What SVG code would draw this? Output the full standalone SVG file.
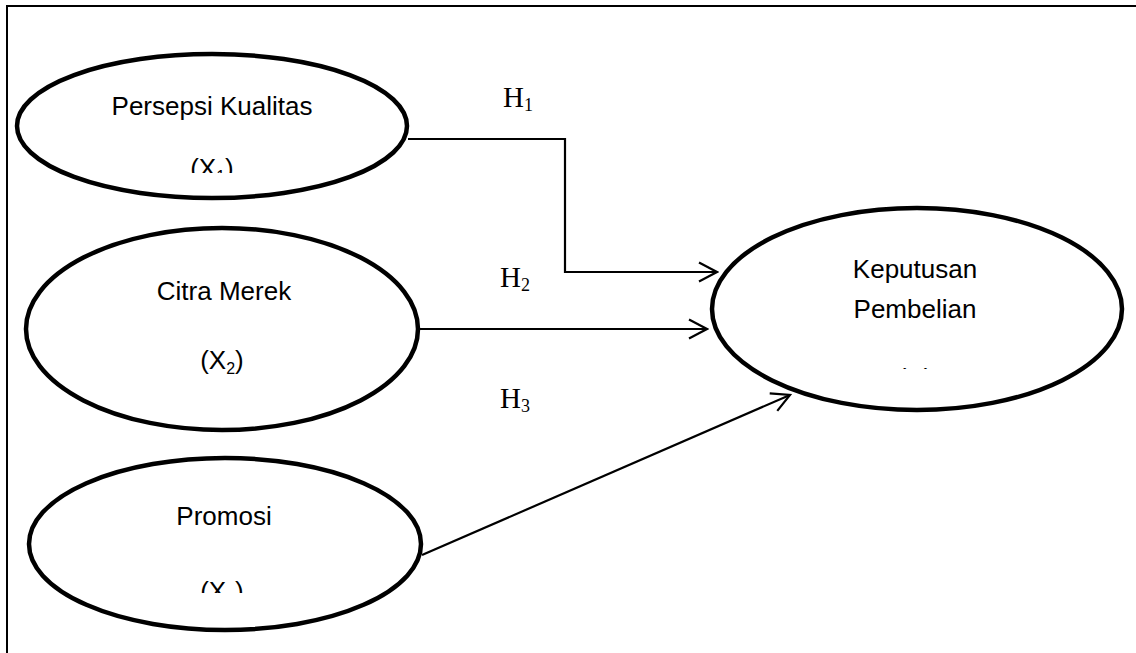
<svg xmlns="http://www.w3.org/2000/svg" width="1136" height="653" viewBox="0 0 1136 653">
<style>
.node ellipse{fill:#fff;stroke:#000;stroke-width:4.5}
.lbl{font-family:"Liberation Sans",Arial,sans-serif;font-size:26px;fill:#000;text-anchor:middle}
.h{font-family:"Liberation Serif","Times New Roman",serif;font-size:29px;fill:#000}
.conn{fill:none;stroke:#000;stroke-width:2.2}
</style>
<defs>
<marker id="arr" viewBox="0 0 22 22" refX="20" refY="11" markerWidth="22" markerHeight="22" markerUnits="userSpaceOnUse" orient="auto">
<path d="M2,1.5 L20,11 L2,20.5" fill="none" stroke="#000" stroke-width="2.2"/>
</marker>
<clipPath id="c1"><rect x="0" y="0" width="1136" height="173"/></clipPath>
<clipPath id="c3"><rect x="0" y="0" width="1136" height="593"/></clipPath>
<clipPath id="c4"><rect x="0" y="0" width="1136" height="369"/></clipPath>
</defs>
<rect width="1136" height="653" fill="#fff"/>
<path d="M7,653 V6 H1136" fill="none" stroke="#000" stroke-width="2"/>
<g id="connectors">
<path class="conn" d="M408,139 H565 V272 H717" marker-end="url(#arr)"/>
<path class="conn" d="M420,329 H707" marker-end="url(#arr)"/>
<path class="conn" d="M422,555 L790,395" marker-end="url(#arr)"/>
</g>
<g id="n1" class="node">
<ellipse cx="212" cy="126" rx="195" ry="72"/>
<text class="lbl" x="212" y="115">Persepsi Kualitas</text>
<text class="lbl" x="212" y="177" clip-path="url(#c1)">(X<tspan font-size="16" dy="5">1</tspan><tspan dy="-5">)</tspan></text>
</g>
<g id="n2" class="node">
<ellipse cx="222" cy="329" rx="196" ry="101"/>
<text class="lbl" x="224" y="300">Citra Merek</text>
<text class="lbl" x="222" y="369">(X<tspan font-size="16" dy="5">2</tspan><tspan dy="-5">)</tspan></text>
</g>
<g id="n3" class="node">
<ellipse cx="225" cy="544" rx="196" ry="86"/>
<text class="lbl" x="224" y="525">Promosi</text>
<text class="lbl" x="222" y="600" clip-path="url(#c3)">(X<tspan font-size="16" dy="5">3</tspan><tspan dy="-5">)</tspan></text>
</g>
<g id="n4" class="node">
<ellipse cx="917" cy="309" rx="205" ry="101"/>
<text class="lbl" x="915" y="278">Keputusan</text>
<text class="lbl" x="915" y="318">Pembelian</text>
<text class="lbl" x="915" y="387" clip-path="url(#c4)">(Y)</text>
</g>
<g id="labels">
<text class="h" x="503" y="107">H<tspan font-size="18" dy="4">1</tspan></text>
<text class="h" x="500" y="287">H<tspan font-size="18" dy="4">2</tspan></text>
<text class="h" x="500" y="408">H<tspan font-size="18" dy="4">3</tspan></text>
</g>
</svg>
